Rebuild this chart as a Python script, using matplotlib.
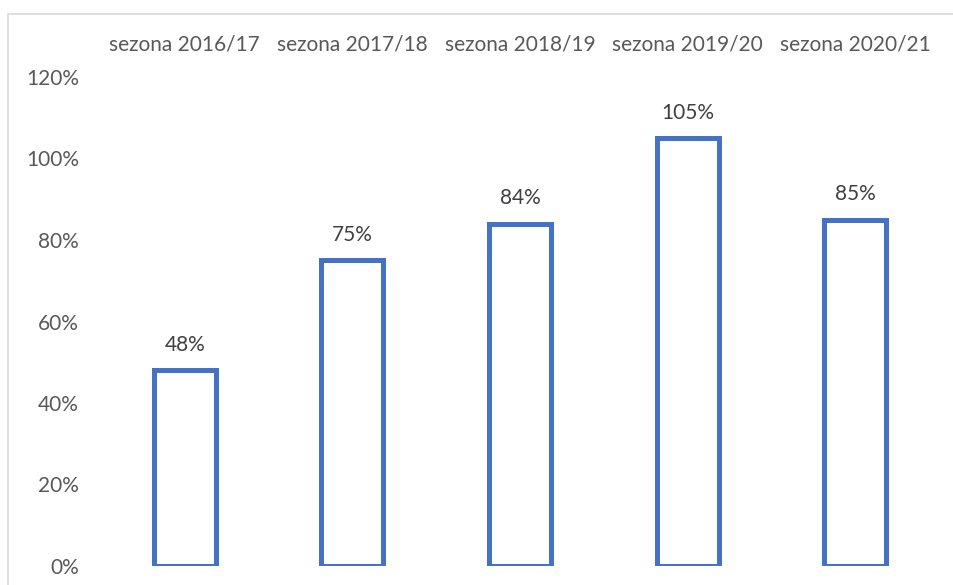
import matplotlib
matplotlib.use("Agg")
import matplotlib.pyplot as plt
from matplotlib.patches import Rectangle
from matplotlib.ticker import PercentFormatter

seasons = ["sezona 2016/17", "sezona 2017/18", "sezona 2018/19", "sezona 2019/20", "sezona 2020/21"]
values = [0.48, 0.75, 0.84, 1.05, 0.85]
yticks = [0, 0.2, 0.4, 0.6, 0.8, 1.0, 1.2]

plt.rcParams["font.family"] = ["Lato", "DejaVu Sans"]

fig = plt.figure(figsize=(9.54, 5.85), dpi=100)
# light frame of the chart area (runs off the right and bottom edges)
fig.patches.append(Rectangle((8 / 954, -0.1), 1.0, (585 - 14) / 585 + 0.1,
                             transform=fig.transFigure, fill=False,
                             edgecolor="#D9D9D9", linewidth=1.2))

ax = fig.add_axes([101 / 954, 19 / 585, 838 / 954, (566 - 77) / 585])
x = range(len(seasons))
ax.bar(x, values, width=0.37, facecolor="white", edgecolor="#4472C4", linewidth=3.6)

for xi, v in zip(x, values):
    ax.annotate(f"{v * 100:.0f}%", (xi, v), xytext=(0, 11), textcoords="offset points",
                ha="center", va="bottom", fontsize=15, color="#404040")

ax.set_ylim(0, 1.2)
ax.set_xlim(-0.5, len(seasons) - 0.5)
ax.set_yticks(yticks)
ax.yaxis.set_major_formatter(PercentFormatter(1.0, decimals=0))
ax.xaxis.tick_top()
ax.set_xticks(list(x))
ax.set_xticklabels(seasons)
ax.tick_params(axis="both", length=0, labelsize=15, labelcolor="#595959")
ax.tick_params(axis="x", pad=16)
ax.tick_params(axis="y", pad=16)
for s in ax.spines.values():
    s.set_visible(False)

fig.savefig("out.png", dpi=100)
